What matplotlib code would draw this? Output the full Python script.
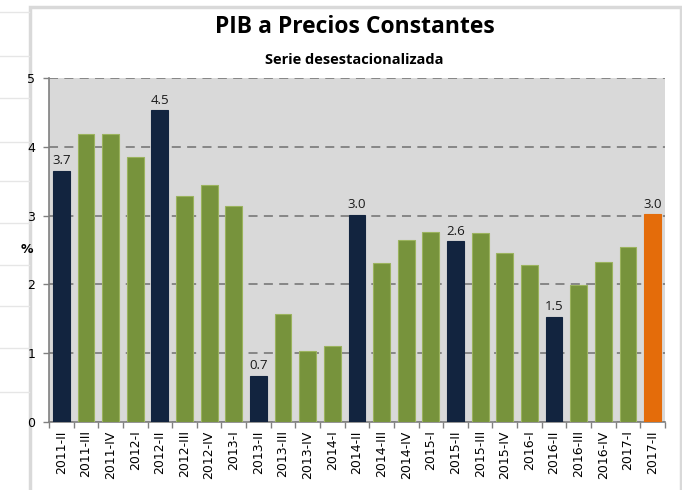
import matplotlib
matplotlib.use("Agg")
import matplotlib.pyplot as plt
from matplotlib.patches import Rectangle
import numpy as np

categories = ["2011-II", "2011-III", "2011-IV", "2012-I", "2012-II", "2012-III", "2012-IV",
              "2013-I", "2013-II", "2013-III", "2013-IV", "2014-I", "2014-II", "2014-III",
              "2014-IV", "2015-I", "2015-II", "2015-III", "2015-IV", "2016-I", "2016-II",
              "2016-III", "2016-IV", "2017-I", "2017-II"]
values = [3.65, 4.19, 4.19, 3.85, 4.53, 3.28, 3.44, 3.14, 0.67, 1.57, 1.03, 1.10, 3.01,
          2.31, 2.65, 2.76, 2.63, 2.75, 2.45, 2.28, 1.53, 1.99, 2.32, 2.55, 3.02]
# bar kind: 'q2' navy (second quarters), 'o' green, 'last' orange
kinds = ["q2", "o", "o", "o", "q2", "o", "o", "o", "q2", "o", "o", "o", "q2",
         "o", "o", "o", "q2", "o", "o", "o", "q2", "o", "o", "o", "last"]
labels = ["3.7", "", "", "", "4.5", "", "", "", "0.7", "", "", "", "3.0",
          "", "", "", "2.6", "", "", "", "1.5", "", "", "", "3.0"]
yticks = [0, 1, 2, 3, 4, 5]

face = {"q2": "#12243F", "o": "#77933C", "last": "#E46C0A"}
edge = {"q2": "#12243F", "o": "#9BB35E", "last": "#E46C0A"}

fig = plt.figure(figsize=(6.82, 4.90), dpi=100)
fig.patch.set_facecolor("white")

# background card / decoration
for yy in [0.975, 0.885, 0.80, 0.71, 0.63, 0.545, 0.46, 0.375, 0.29, 0.2]:
    fig.add_artist(plt.Line2D([0.0, 0.042], [yy, yy], color="#E6E6E6", lw=1.0,
                              transform=fig.transFigure))
fig.add_artist(Rectangle((0.044, -0.02), 0.954, 1.006, transform=fig.transFigure,
                         facecolor="white", edgecolor="#D9D9D9", lw=2.5, zorder=0))

ax = fig.add_axes([0.0718, 0.1388, 0.9032, 0.702])
ax.set_facecolor("#D9D9D9")

x = np.arange(len(categories))
ax.bar(x, values, width=0.68,
       color=[face[k] for k in kinds], edgecolor=[edge[k] for k in kinds],
       linewidth=0.8, zorder=3)

for xi, v, lab in zip(x, values, labels):
    if lab:
        ax.text(xi, v + 0.05, lab, ha="center", va="bottom", fontsize=9.5,
                family="Open Sans", color="#1a1a1a", zorder=4)

ax.set_xlim(-0.5, len(categories) - 0.5)
ax.set_ylim(0, 5)
ax.set_yticks(yticks)
ax.set_yticklabels([str(t) for t in yticks], fontsize=9, family="DejaVu Sans")
ax.yaxis.grid(True, linestyle=(0, (5, 3.5)), color="#808080", linewidth=1.3, zorder=1)
ax.set_axisbelow(True)

ax.set_xticks(x)
ax.set_xticklabels(categories, rotation=90, fontsize=9, family="DejaVu Sans")
ax.tick_params(axis="x", which="major", length=0, pad=6)
ax.set_xticks(np.arange(-0.5, len(categories), 1.0), minor=True)
ax.tick_params(axis="x", which="minor", length=4, color="#808080", direction="out", width=1)
ax.tick_params(axis="y", length=4, color="#808080", width=1, pad=6)

for s in ["top", "right"]:
    ax.spines[s].set_visible(False)
for s in ["left", "bottom"]:
    ax.spines[s].set_color("#808080")
    ax.spines[s].set_linewidth(1.2)

fig.text(0.04, 0.49, "%", fontsize=9, fontweight="bold", family="DejaVu Sans",
         ha="center", va="center")
fig.text(0.52, 0.945, "PIB a Precios Constantes", fontsize=16.5, fontweight="bold",
         family="Open Sans", ha="center", va="center")
fig.text(0.52, 0.877, "Serie desestacionalizada", fontsize=10.5, fontweight="bold",
         family="Open Sans", ha="center", va="center")

fig.savefig("out.png", dpi=100)
